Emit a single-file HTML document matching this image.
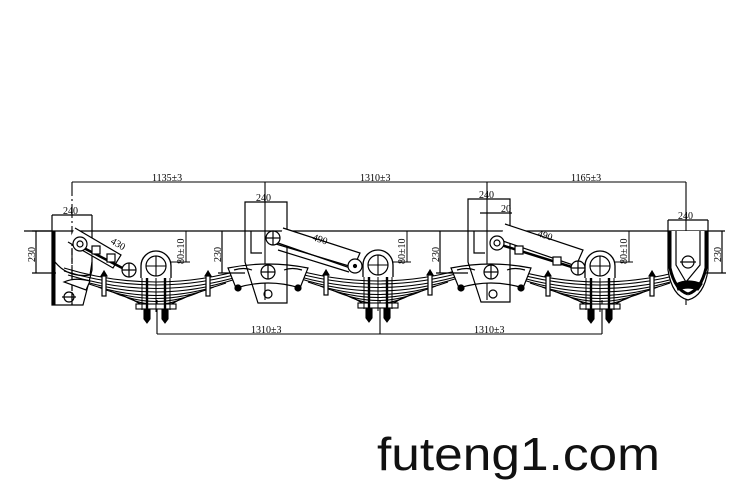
<!DOCTYPE html>
<html><head><meta charset="utf-8"><style>
html,body{margin:0;padding:0;background:#fff;}
svg{display:block;}
text{font-family:"Liberation Serif",serif;fill:#000;}
</style></head><body>
<svg width="750" height="500" viewBox="0 0 750 500" xmlns="http://www.w3.org/2000/svg">
<defs>
<g id="spring" fill="none" stroke="#000" stroke-width="1.1">
  <path d="M-92,-4 Q0,24 92,-4"/>
  <path d="M-92,-1 Q0,27 92,-1"/>
  <path d="M-88,3 Q0,30 88,3"/>
  <path d="M-80,7 Q0,33 80,7"/>
  <path d="M-70,11 Q0,36 70,11"/>
  <path d="M-58,15 Q0,38 58,15"/>
  <path d="M-46,19 Q0,40 46,19"/>
  <path d="M-34,23 Q0,42 34,23"/>
  <path d="M-24,27 Q0,44 24,27"/>
  <rect x="-20" y="32" width="40" height="5" fill="#fff"/>
  <!-- clamps -->
  <rect x="-54" y="4" width="4" height="20" fill="#fff" stroke-width="1.2"/>
  <path d="M-52,-1 l-3,5 h6z" fill="#000"/>
  <rect x="50" y="4" width="4" height="20" fill="#fff" stroke-width="1.2"/>
  <path d="M52,-1 l-3,5 h6z" fill="#000"/>
  <!-- U bolts -->
  <line x1="-9" y1="-12" x2="-9" y2="44" stroke-width="2.4"/>
  <line x1="9" y1="-12" x2="9" y2="44" stroke-width="2.4"/>
  <line x1="-14" y1="0" x2="-14" y2="38" stroke-width="1"/>
  <line x1="14" y1="0" x2="14" y2="38" stroke-width="1"/>
  <path d="M-12,38 h6 v9 l-3,4 l-3,-4z" fill="#000"/>
  <path d="M6,38 h6 v9 l-3,4 l-3,-4z" fill="#000"/>
  <line x1="0" y1="-5" x2="0" y2="40" stroke-width="1"/>
  <!-- axle eye -->
  <path d="M-15,6 v-12 a15,15 0 0 1 30,0 v12" fill="#fff" stroke-width="1.3"/>
  <circle cx="0" cy="-6" r="10" fill="#fff" stroke-width="1.2"/>
  <line x1="-10" y1="-6" x2="10" y2="-6"/><line x1="0" y1="-16" x2="0" y2="4"/>
</g>
<g id="rocker" fill="none" stroke="#000" stroke-width="1.2">
  <path d="M-40,-8 Q0,-16 40,-8 L32,12 Q0,2 -32,12 Z" fill="#fff"/>
  <path d="M-34,-6 Q-24,-9 -16,-6 M16,-6 Q24,-9 34,-6" />
  <circle cx="-30" cy="12" r="3" fill="#000"/>
  <circle cx="30" cy="12" r="3" fill="#000"/>
</g>
</defs>

<g stroke="#000" fill="none" stroke-width="1.1">
  <line x1="72" y1="182" x2="686" y2="182"/>
  <line x1="72" y1="182" x2="72" y2="305" stroke-dasharray="14,3,2,3"/>
  <line x1="265" y1="182" x2="265" y2="300"/>
  <line x1="487" y1="182" x2="487" y2="300"/>
  <line x1="686" y1="182" x2="686" y2="305"/>
  <line x1="24" y1="231" x2="725" y2="231" stroke-width="1.3"/>
  <line x1="157" y1="334" x2="602" y2="334"/>
  <line x1="157" y1="300" x2="157" y2="334"/>
  <line x1="380" y1="300" x2="380" y2="334"/>
  <line x1="602" y1="300" x2="602" y2="334"/>
</g>

<use href="#spring" transform="translate(156,272)"/>
<use href="#spring" transform="translate(378,271)"/>
<use href="#spring" transform="translate(600,272)"/>

<!-- left hanger -->
<g stroke="#000" fill="none" stroke-width="1.2">
  <path d="M52,215 H92 M52,215 V231 M92,215 V231"/>
  <path d="M52,231 V305 H83 L92,270 V231"/>
  <line x1="54" y1="231" x2="54" y2="305" stroke-width="3"/>
  <path d="M55,262 Q68,278 90,275 L92,262"/>
  <circle cx="69" cy="297" r="5"/><line x1="62" y1="297" x2="76" y2="297"/>
  <line x1="72" y1="231" x2="72" y2="305" stroke-dasharray="6,3"/>
  <path d="M36,231 V273 M32,273 H56 M32,231 H52"/>
  <path d="M75,228 L121,255 L113,268 L68,242" fill="#fff"/>
  <path d="M78,245 L130,272" stroke-width="2.5"/>
  <circle cx="80" cy="244" r="7" fill="#fff"/><circle cx="80" cy="244" r="3"/>
  <rect x="92" y="246" width="8" height="8" fill="#fff"/>
  <rect x="107" y="254" width="8" height="8" fill="#fff"/>
  <circle cx="129" cy="270" r="7" fill="#fff"/><line x1="122" y1="270" x2="136" y2="270"/><line x1="129" y1="263" x2="129" y2="277"/>
  <path d="M64,282 Q75,277 90,281 L86,290 Z" fill="#fff"/>
</g>

<!-- mid hanger 1 -->
<g stroke="#000" fill="none" stroke-width="1.2">
  <use href="#rocker" transform="translate(268,276)"/>
  <path d="M245,202 H287 V303 H258 L245,262 Z"/>
  <path d="M251,231 V253 H262"/>
  <line x1="222" y1="231" x2="222" y2="273"/><line x1="218" y1="273" x2="245" y2="273"/>
  <circle cx="268" cy="272" r="7" fill="#fff"/><line x1="261" y1="272" x2="275" y2="272"/><line x1="268" y1="265" x2="268" y2="279"/>
  <circle cx="268" cy="294" r="4"/>
  <path d="M283,228 L360,253 L353,269 L278,243" fill="#fff"/>
  <path d="M276,244 L349,266 M278,250 L349,272"/>
  <circle cx="273" cy="238" r="7" fill="#fff"/><line x1="266" y1="238" x2="280" y2="238"/><line x1="273" y1="231" x2="273" y2="245"/>
  <circle cx="355" cy="266" r="7" fill="#fff"/><circle cx="355" cy="266" r="1.5" fill="#000"/>
</g>
<!-- mid hanger 2 -->
<g stroke="#000" fill="none" stroke-width="1.2">
  <use href="#rocker" transform="translate(491,276)"/>
  <path d="M468,199 H510 V302 H481 L468,262 Z"/>
  <path d="M474,231 V253 H485"/>
  <line x1="440" y1="231" x2="440" y2="273"/><line x1="436" y1="273" x2="468" y2="273"/>
  <circle cx="491" cy="272" r="7" fill="#fff"/><line x1="484" y1="272" x2="498" y2="272"/><line x1="491" y1="265" x2="491" y2="279"/>
  <circle cx="493" cy="294" r="4"/>
  <line x1="480" y1="213" x2="512" y2="213"/>
  <path d="M505,224 L583,250 L576,266 L500,240" fill="#fff"/>
  <path d="M498,244 L575,268" stroke-width="2.5"/>
  <circle cx="497" cy="243" r="7" fill="#fff"/><circle cx="497" cy="243" r="3"/>
  <rect x="515" y="246" width="8" height="8" fill="#fff"/>
  <rect x="553" y="257" width="8" height="8" fill="#fff"/>
  <circle cx="578" cy="268" r="7" fill="#fff"/><line x1="571" y1="268" x2="585" y2="268"/><line x1="578" y1="261" x2="578" y2="275"/>
</g>

<g stroke="#000" stroke-width="1">
  <line x1="186" y1="231" x2="186" y2="262"/><line x1="170" y1="262" x2="190" y2="262"/>
  <line x1="407" y1="231" x2="407" y2="262"/><line x1="392" y1="262" x2="411" y2="262"/>
  <line x1="629" y1="231" x2="629" y2="262"/><line x1="614" y1="262" x2="633" y2="262"/>
</g>

<!-- right hanger -->
<g stroke="#000" fill="none" stroke-width="1.2">
  <path d="M668,220 H708 M668,220 V231 M708,220 V231"/>
  <path d="M668,231 V270 Q672,296 688,300 Q704,296 708,270 V231" fill="#fff"/>
  <path d="M670,231 V268 Q675,290 688,294" stroke-width="3"/>
  <path d="M706,231 V268 Q701,290 688,294" stroke-width="3"/>
  <path d="M676,231 V265 L686,282 L700,265 V231"/>
  <circle cx="688" cy="262" r="6"/><line x1="680" y1="262" x2="696" y2="262"/>
  <path d="M676,284 Q688,278 702,284 L698,290 Q688,286 678,290Z" fill="#000"/>
  <line x1="722" y1="231" x2="722" y2="273"/><line x1="706" y1="273" x2="726" y2="273"/>
</g>

<g font-size="10">
  <text x="152" y="181">1135±3</text>
  <text x="360" y="181">1310±3</text>
  <text x="571" y="181">1165±3</text>
  <text x="63" y="214">240</text>
  <text x="256" y="201">240</text>
  <text x="479" y="198">240</text>
  <text x="678" y="219">240</text>
  <text x="501" y="212">20</text>
  <text x="251" y="333">1310±3</text>
  <text x="474" y="333">1310±3</text>
  <text x="110" y="243" transform="rotate(30 110 243)">430</text>
  <text x="312" y="240" transform="rotate(18 312 240)">490</text>
  <text x="537" y="236" transform="rotate(18 537 236)">490</text>
  <text transform="translate(35,262) rotate(-90)">230</text>
  <text transform="translate(221,262) rotate(-90)">230</text>
  <text transform="translate(439,262) rotate(-90)">230</text>
  <text transform="translate(721,262) rotate(-90)">230</text>
  <text transform="translate(184,264) rotate(-90)">80±10</text>
  <text transform="translate(405,264) rotate(-90)">80±10</text>
  <text transform="translate(627,264) rotate(-90)">80±10</text>
</g>

<text x="377" y="470" font-size="46" textLength="283" lengthAdjust="spacingAndGlyphs" style="font-family:'Liberation Sans',sans-serif;fill:#111">futeng1.com</text>
</svg>
</body></html>
